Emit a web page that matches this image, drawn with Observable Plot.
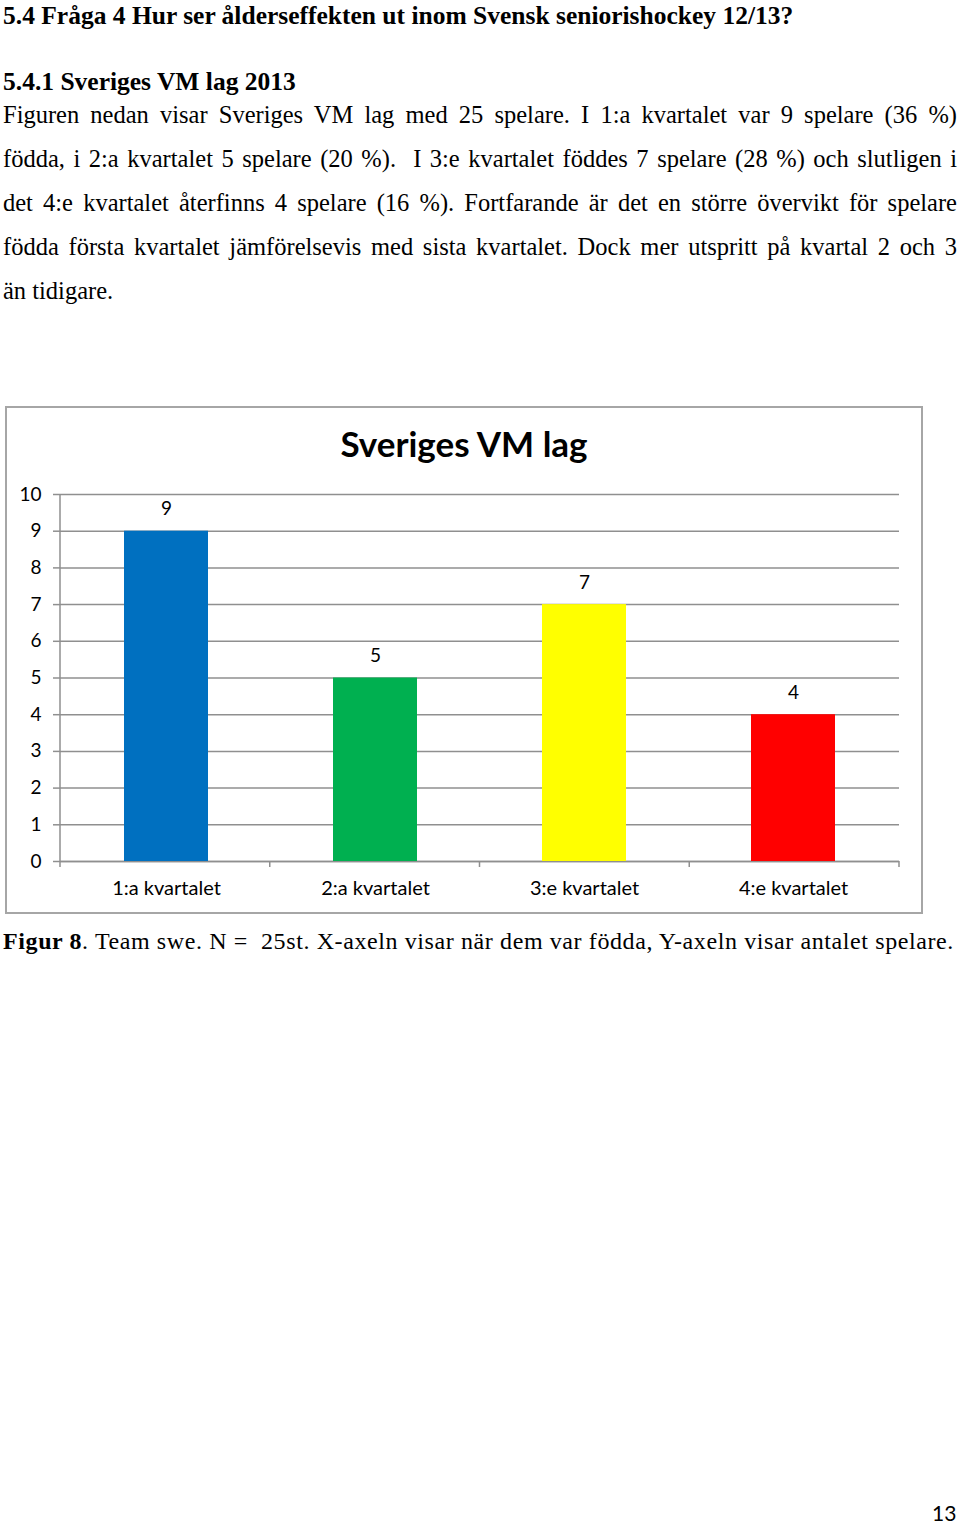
<!DOCTYPE html>
<html>
<head>
<meta charset="utf-8">
<script src="https://cdn.jsdelivr.net/npm/d3@7"></script>
<script src="https://cdn.jsdelivr.net/npm/@observablehq/plot@0.6"></script>
<style>
  html, body { margin: 0; padding: 0; background: #fff; }
  body { width: 960px; height: 1525px; position: relative; font-family: "Liberation Serif", "Times New Roman", serif; color: #000; }
  .h { position: absolute; left: 3px; font-weight: bold; font-size: 25.5px; white-space: nowrap; }
  .para { position: absolute; left: 3px; top: 93px; width: 954px; font-size: 24.5px; line-height: 44px; }
  .para div { text-align: justify; text-align-last: justify; white-space: nowrap; }
  .para div.last { text-align-last: left; }
  .frame { position: absolute; left: 5px; top: 406px; width: 914px; height: 504px; border: 2px solid #a6a6a6; }
  .ctitle { position: absolute; left: 0; width: 100%; top: 14px; text-align: center; font-family: Lato, "Open Sans", sans-serif; font-weight: bold; font-size: 35px; }
  #chart { position: absolute; left: 0; top: 0; }
  .caption { position: absolute; left: 3px; top: 928px; font-size: 24px; white-space: nowrap; letter-spacing: 0.6px; }
  .pnum { position: absolute; left: 932px; top: 1500px; font-family: Lato, sans-serif; font-size: 21px; }
</style>
</head>
<body>
<div class="h" style="top:1px;">5.4&nbsp;Fråga 4 Hur ser ålderseffekten ut inom Svensk seniorishockey 12/13?</div>
<div class="h" style="top:67px;">5.4.1 Sveriges VM lag 2013</div>
<div class="para">
  <div>Figuren nedan visar Sveriges VM lag med 25 spelare. I 1:a kvartalet var 9 spelare (36 %)</div>
  <div>födda, i 2:a kvartalet 5 spelare (20 %). &nbsp;I 3:e kvartalet föddes 7 spelare (28 %) och slutligen i</div>
  <div>det 4:e kvartalet återfinns 4 spelare (16 %). Fortfarande är det en större övervikt för spelare</div>
  <div>födda första kvartalet jämförelsevis med sista kvartalet. Dock mer utspritt på kvartal 2 och 3</div>
  <div class="last">än tidigare.</div>
</div>
<div class="frame">
  <div class="ctitle">Sveriges VM lag</div>
  <div id="chart"></div>
</div>
<div class="caption"><b>Figur 8</b>. Team swe. N = &nbsp;25st. X-axeln visar när dem var födda, Y-axeln visar antalet spelare.</div>
<div class="pnum">13</div>
<script>
const quarters = ["1:a kvartalet", "2:a kvartalet", "3:e kvartalet", "4:e kvartalet"];
const players = [9, 5, 7, 4];
const yTicks = [0, 1, 2, 3, 4, 5, 6, 7, 8, 9, 10];
const palette = ["#0070C0", "#00B050", "#FFFF00", "#FF0000"];

const rows = quarters.map((q, i) => ({quarter: q, count: players[i]}));
const gray = "#8f8f8f";
const sans = "Lato, 'Open Sans', sans-serif";

// Axis line on the left plus category-boundary ticks below the baseline, derived from the plot dimensions
const axisFurniture = (index, scales, values, dims) => {
  const g = d3.create("svg:g");
  const x0 = dims.marginLeft, x1 = dims.width - dims.marginRight;
  const yTop = dims.marginTop, y0 = dims.height - dims.marginBottom;
  g.append("line").attr("x1", x0).attr("x2", x0).attr("y1", yTop).attr("y2", y0)
    .attr("stroke", gray).attr("stroke-width", 1.5);
  const n = quarters.length;
  for (let i = 0; i <= n; i++) {
    const xx = x0 + (x1 - x0) * i / n;
    g.append("line").attr("x1", xx).attr("x2", xx).attr("y1", y0).attr("y2", y0 + 6)
      .attr("stroke", gray).attr("stroke-width", 1.5);
  }
  return g.node();
};

const chart = Plot.plot({
  width: 914,
  height: 504,
  marginLeft: 53,
  marginRight: 22,
  marginTop: 86,
  marginBottom: 51,
  style: {fontFamily: sans, fontSize: "19px", color: "#000", background: "transparent"},
  x: {domain: quarters, paddingInner: 0.6, paddingOuter: 0.3, label: null},
  y: {domain: [0, 10], label: null},
  color: {domain: quarters, range: palette},
  marks: [
    Plot.gridY(yTicks, {stroke: gray, strokeOpacity: 1, strokeWidth: 1.5}),
    Plot.ruleY([0], {stroke: gray, strokeWidth: 1.5}),
    Plot.axisY(yTicks, {tickSize: 7, tickPadding: 12, stroke: gray, strokeWidth: 1.5, fontSize: 19, tickFormat: d => String(d)}),
    Plot.axisX({tickSize: 0, tickPadding: 19, fontSize: 20}),
    Plot.barY(rows, {x: "quarter", y: "count", fill: "quarter"}),
    Plot.text(rows, {x: "quarter", y: "count", text: d => String(d.count), dy: -22, fontSize: 19}),
    axisFurniture
  ]
});
document.getElementById("chart").appendChild(chart);
</script>
</body>
</html>
